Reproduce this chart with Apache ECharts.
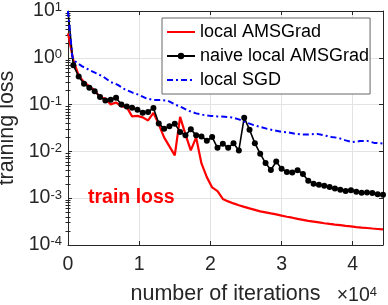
<!DOCTYPE html>
<html><head><meta charset="utf-8">
<script src="https://cdn.jsdelivr.net/npm/echarts@6/dist/echarts.min.js"></script>
<style>html,body{margin:0;padding:0;background:#fff}#c{width:388px;height:305px}</style>
</head><body><div id="c"></div>
<script>
// ---- data ----
const iterations = [0, 750, 1500, 2250, 3000, 3750, 4500, 5250, 6000, 6750,
  7500, 8250, 9000, 9750, 10500, 11250, 12000, 12750, 13500, 14250,
  15000, 15750, 16500, 17250, 18000, 18750, 19500, 20250, 21000, 21750,
  22500, 23250, 24000, 24750, 25500, 26250, 27000, 27750, 28500, 29250,
  30000, 30750, 31500, 32250, 33000, 33750, 34500, 35250, 36000, 36750,
  37500, 38250, 39000, 39750, 40500, 41250, 42000, 42750, 43500, 44250];
const lossLocalAMSGrad = [3.32, 0.88, 0.42, 0.303, 0.245, 0.201, 0.144, 0.134, 0.101, 0.111,
  0.0916, 0.0885, 0.056, 0.0574, 0.0533, 0.0459, 0.0665, 0.0378, 0.0199, 0.0128,
  0.00822, 0.0546, 0.0231, 0.0105, 0.0199, 0.00554, 0.00282, 0.0017, 0.00142, 0.000966,
  0.000855, 0.000774, 0.000708, 0.000652, 0.000605, 0.000562, 0.000522, 0.000497, 0.000473, 0.000451,
  0.000423, 0.000402, 0.000383, 0.000361, 0.000344, 0.000327, 0.000316, 0.000304, 0.000292, 0.000282,
  0.000273, 0.000265, 0.000257, 0.00025, 0.000242, 0.000236, 0.000231, 0.000225, 0.00022, 0.000215];
const lossNaiveLocalAMSGrad = [10, 0.69, 0.40, 0.28, 0.23, 0.194, 0.145, 0.123, 0.127, 0.140,
  0.101, 0.0916, 0.0859, 0.0778, 0.0671, 0.0692, 0.085, 0.0397, 0.0305, 0.0345,
  0.0391, 0.0261, 0.022, 0.0298, 0.022, 0.0209, 0.0169, 0.0202, 0.0119, 0.0146,
  0.0119, 0.0150, 0.0105, 0.0525, 0.0291, 0.0150, 0.00893, 0.00562, 0.00401, 0.00605,
  0.00427, 0.00361, 0.00352, 0.00398, 0.00329, 0.00237, 0.00204, 0.00194, 0.00185, 0.00173,
  0.00162, 0.00152, 0.00142, 0.00147, 0.00138, 0.00131, 0.00133, 0.00129, 0.00121, 0.00119];
const iterationsSGD = [0, 600, 1000, 2000, 3000, 4000, 5000, 6000, 7000, 8000, 9000,
  10000, 11000, 12000, 13000, 14000, 15000, 16000, 17000, 18000, 19000,
  20000, 21000, 22000, 23000, 24000, 25000, 26000, 27000, 28000, 29000,
  30000, 31000, 32000, 33000, 34000, 35000, 36000, 37000, 38000, 39000,
  40000, 41000, 42000, 43000, 44250];
const lossLocalSGD = [10, 1.07, 0.84, 0.655, 0.551, 0.464, 0.391, 0.303, 0.264, 0.211, 0.182,
  0.161, 0.136, 0.126, 0.125, 0.121, 0.101, 0.087, 0.0733, 0.0649, 0.0603,
  0.0574, 0.056, 0.0548, 0.0533, 0.0483, 0.0417, 0.0368, 0.0334, 0.0303, 0.0281,
  0.0261, 0.0255, 0.0237, 0.0231, 0.0231, 0.0237, 0.022, 0.0204, 0.0194, 0.0172,
  0.0158, 0.0166, 0.0168, 0.0152, 0.0148];
const seriesNames = ['local AMSGrad', 'naive local AMSGrad', 'local SGD'];
const xTickValues = [0, 10000, 20000, 30000, 40000];
const xTickLabels = ['0', '1', '2', '3', '4'];
const yTickValues = [1e-4, 1e-3, 1e-2, 1e-1, 1, 10];
const yTickExponents = ['-4', '-3', '-2', '-1', '0', '1'];

// ---- chart ----
const FONT = '"Liberation Sans", Arial, Helvetica, sans-serif';
const AX = '#262626';
const minorLog = [];
for (let e = -4; e < 1; e++) for (let k = 2; k <= 9; k++) minorLog.push(e + Math.log10(k));

const supRich = {
  b: { fontSize: 19.5, lineHeight: 19.5, padding: [6, 0, 0, 0], verticalAlign: 'bottom', color: AX, fontFamily: FONT },
  s: { fontSize: 13, lineHeight: 13, verticalAlign: 'top', color: AX, fontFamily: FONT }
};

const chart = echarts.init(document.getElementById('c'), null, { renderer: 'canvas' });
const logAxisBase = { type: 'log', logBase: 10, min: 1e-4, max: 10, gridIndex: 0 };
chart.setOption({
  animation: false,
  backgroundColor: '#fff',
  grid: { left: 68, right: 5, top: 11, bottom: 60, containLabel: false, outerBoundsMode: 'none' },
  legend: {
    orient: 'vertical', left: 162, top: 18,
    padding: [5, 1, 5, 4],
    itemWidth: 28, itemHeight: 8, itemGap: 6,
    backgroundColor: '#fff', borderColor: '#666', borderWidth: 1,
    textStyle: { fontSize: 18, color: '#000', fontFamily: FONT },
    data: [
      { name: seriesNames[0], itemStyle: { opacity: 0 } },
      { name: seriesNames[1] },
      { name: seriesNames[2], itemStyle: { opacity: 0 } }
    ]
  },
  xAxis: [
    {
      type: 'value', position: 'bottom', min: 0, max: 44250, interval: 10000,
      axisLine: { show: true, onZero: false, lineStyle: { color: AX, width: 1 } },
      axisTick: { show: true, inside: true, length: 4, lineStyle: { color: AX } },
      axisLabel: {
        margin: 10, fontSize: 19.5, color: AX, fontFamily: FONT, showMaxLabel: false,
        formatter: v => { const i = xTickValues.indexOf(v); return i >= 0 ? xTickLabels[i] : ''; }
      },
      splitLine: { show: true, lineStyle: { color: '#e3e3e3', width: 1 } },
      name: 'number of iterations', nameLocation: 'middle', nameGap: 38,
      nameTextStyle: { fontSize: 21.5, color: AX, fontFamily: FONT }
    },
    {
      type: 'value', position: 'top', min: 0, max: 44250, interval: 10000,
      axisLine: { show: true, onZero: false, lineStyle: { color: AX, width: 1 } },
      axisTick: { show: true, inside: true, length: 4, lineStyle: { color: AX } },
      axisLabel: { show: false }, splitLine: { show: false }
    }
  ],
  yAxis: [
    Object.assign({}, logAxisBase, {
      position: 'left',
      axisLine: { show: true, onZero: false, lineStyle: { color: AX, width: 1 } },
      axisTick: { show: true, inside: true, length: 4, lineStyle: { color: AX } },
      axisLabel: {
        margin: 6, rich: supRich,
        formatter: v => { const i = yTickValues.findIndex(t => Math.abs(Math.log10(t) - Math.log10(v)) < 1e-6); return i >= 0 ? '{b|10}{s|' + yTickExponents[i] + '}' : ''; }
      },
      splitLine: { show: true, lineStyle: { color: '#e3e3e3', width: 1 } },
      name: 'training loss', nameLocation: 'middle', nameGap: 48, nameRotate: 90,
      nameTextStyle: { fontSize: 21.5, color: AX, fontFamily: FONT }
    }),
    Object.assign({}, logAxisBase, {
      position: 'right',
      axisLine: { show: true, onZero: false, lineStyle: { color: AX, width: 1 } },
      axisTick: { show: true, inside: true, length: 4, lineStyle: { color: AX } },
      axisLabel: { show: false }, splitLine: { show: false }
    }),
    {
      type: 'value', position: 'left', min: -4, max: 1, gridIndex: 0,
      axisLine: { show: false }, axisLabel: { show: false }, splitLine: { show: false },
      axisTick: { show: true, inside: true, length: 2.5, customValues: minorLog, lineStyle: { color: AX } }
    },
    {
      type: 'value', position: 'right', min: -4, max: 1, gridIndex: 0,
      axisLine: { show: false }, axisLabel: { show: false }, splitLine: { show: false },
      axisTick: { show: true, inside: true, length: 2.5, customValues: minorLog, lineStyle: { color: AX } }
    }
  ],
  series: [
    {
      name: seriesNames[0], type: 'line', xAxisIndex: 0, yAxisIndex: 0,
      symbol: 'none', color: '#ff0000',
      lineStyle: { color: '#ff0000', width: 2.2 },
      data: iterations.map((x, i) => [x, lossLocalAMSGrad[i]])
    },
    {
      name: seriesNames[1], type: 'line', xAxisIndex: 0, yAxisIndex: 0,
      symbol: 'circle', symbolSize: 6, showSymbol: true, color: '#000',
      itemStyle: { color: '#000' },
      lineStyle: { color: '#000', width: 1.6 },
      data: iterations.map((x, i) => i === 0 ? { value: [x, lossNaiveLocalAMSGrad[i]], symbol: 'none' } : [x, lossNaiveLocalAMSGrad[i]])
    },
    {
      name: seriesNames[2], type: 'line', xAxisIndex: 0, yAxisIndex: 0,
      symbol: 'none', color: '#0000ff',
      lineStyle: { color: '#0000ff', width: 2, type: [6, 3, 2, 3] },
      data: iterationsSGD.map((x, i) => [x, lossLocalSGD[i]])
    }
  ],
  graphic: [
    {
      type: 'text', left: 88, top: 188, z: 100,
      style: { text: 'train loss', fill: '#ff0000', font: 'bold 19.5px ' + FONT }
    },
    {
      type: 'text', right: 11, top: 279.5, z: 100,
      style: {
        text: '{t|×10}{s|4}',
        rich: {
          t: { fontSize: 19.5, lineHeight: 19.5, padding: [6, 0, 0, 0], verticalAlign: 'bottom', fill: AX, fontFamily: FONT },
          s: { fontSize: 13, lineHeight: 13, verticalAlign: 'top', fill: AX, fontFamily: FONT }
        }
      }
    }
  ]
});
</script></body></html>
